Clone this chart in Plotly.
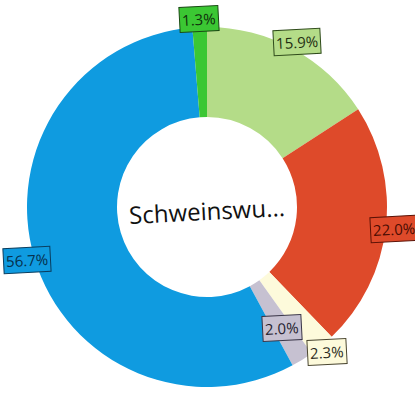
import math
import plotly.graph_objects as go

# slices, clockwise from 12 o'clock
labels = ["A", "B", "C", "D", "E", "F"]
values = [15.9, 22.0, 2.3, 2.0, 56.7, 1.3]
text_labels = ["15.9%", "22.0%", "2.3%", "2.0%", "56.7%", "1.3%"]
center_label = "Schweinswu..."

colors = ["#b4dc88", "#de4a2a", "#fdfadb", "#c6c1d1", "#0f9be0", "#3bc733"]
border_colors = ["#2e4a1a", "#5a1206", "#4a4630", "#3a3648", "#0a3d5e", "#1a4a14"]
text_colors = ["#1f2f12", "#4a0c02", "#2b2a22", "#25222e", "#06304c", "#10300c"]

fig = go.Figure()
fig.add_trace(go.Pie(
    labels=labels, values=values, hole=0.5, sort=False, direction="clockwise",
    rotation=0, marker=dict(colors=colors, line=dict(width=0)),
    textinfo="none", hoverinfo="none", showlegend=False,
))

# boxed percent labels sitting on the outer edge at each slice's mid angle
total = sum(values)
cum = 0
prev_ang = None
annotations = []
for v, t, c, bc, tc in zip(values, text_labels, colors, border_colors, text_colors):
    ang = (cum + v / 2) / total * 2 * math.pi
    cum += v
    r = 0.522
    # pull a label inward if it would crowd the previous one
    if prev_ang is not None and ang - prev_ang < 0.2:
        r = 0.395
    prev_ang = ang
    annotations.append(dict(
        x=0.5 + r * math.sin(ang), y=0.5 + r * math.cos(ang),
        xref="paper", yref="paper", xanchor="center", yanchor="middle",
        text=t, showarrow=False,
        font=dict(family="Open Sans", size=15, color=tc),
        bgcolor=c, bordercolor=bc, borderwidth=1, borderpad=2,
        textangle=-3,
    ))

annotations.append(dict(
    x=0.5, y=0.49, xref="paper", yref="paper", xanchor="center", yanchor="middle",
    text=center_label, showarrow=False, textangle=-3,
    font=dict(family="Open Sans", size=24, color="#111111"),
))

fig.update_layout(
    width=415, height=415,
    margin=dict(l=27, r=28, t=27, b=28, autoexpand=False),
    paper_bgcolor="white", plot_bgcolor="white",
    annotations=annotations,
)

fig.write_html("out.html", config={"displayModeBar": False},
               post_script="document.body.style.margin='0';document.body.style.overflow='hidden';")
